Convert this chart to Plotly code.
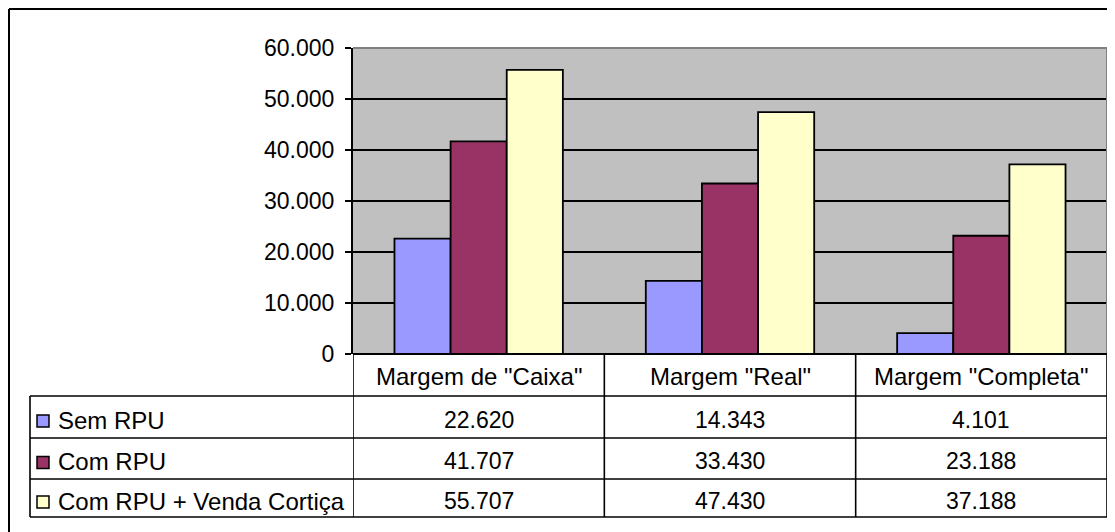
import plotly.graph_objects as go

categories = ['Margem de "Caixa"', 'Margem "Real"', 'Margem "Completa"']
series_names = ["Sem RPU", "Com RPU", "Com RPU + Venda Cortiça"]
sem_rpu = [22620, 14343, 4101]
com_rpu = [41707, 33430, 23188]
com_rpu_cortica = [55707, 47430, 37188]
colors = ["#9999FF", "#993366", "#FFFFCC"]

W, H = 1115, 532
OFF = 8  # page body margin, positions below are measured on the page
FAMILY = "Liberation Sans, Arial, sans-serif"
NUM_FONT = dict(family=FAMILY, size=23, color="black")
TXT_FONT = dict(family=FAMILY, size=24, color="black")


def px(x):
    return (x - OFF) / W


def py(y):
    return 1 - (y - OFF) / H


def fmt(v):
    return f"{v:,}".replace(",", ".")


fig = go.Figure()
for name, vals, col in zip(series_names, [sem_rpu, com_rpu, com_rpu_cortica], colors):
    fig.add_trace(go.Bar(
        x=list(range(len(categories))),
        y=vals,
        name=name,
        marker=dict(color=col, line=dict(color="black", width=1.8)),
        showlegend=False,
    ))

# plot area (page pixels)
x_left, x_right = 353, 1107
y_top, y_bot = 48, 354
# table geometry (page pixels)
tab_left = 30
row_lines = [396, 438, 479, 517]

fig.update_layout(
    width=W, height=H,
    margin=dict(l=0, r=0, t=0, b=0, autoexpand=False),
    paper_bgcolor="white",
    plot_bgcolor="#C0C0C0",
    barmode="group",
    bargap=0.33,
    bargroupgap=0,
    separators=",.",
    font=NUM_FONT,
    xaxis=dict(
        domain=[px(x_left), px(x_right)],
        range=[-0.5, len(categories) - 0.5],
        showticklabels=False, ticks="", showgrid=False, zeroline=False,
        showline=False, automargin=False,
    ),
    yaxis=dict(
        domain=[py(y_bot), py(y_top)],
        range=[0, 60000], dtick=10000, tickformat=",.0f",
        ticks="outside", ticklen=6, tickwidth=1.5, tickcolor="black",
        showgrid=True, gridcolor="black", gridwidth=1.6,
        showline=True, linecolor="black", linewidth=2,
        zeroline=False, ticklabelstandoff=6, automargin=False,
        tickfont=NUM_FONT,
    ),
)

shapes = []
# outer chart border (top and left visible)
shapes.append(dict(type="line", xref="paper", yref="paper",
                   x0=px(9), x1=1, y0=py(9), y1=py(9), line=dict(color="black", width=2)))
shapes.append(dict(type="line", xref="paper", yref="paper",
                   x0=px(9), x1=px(9), y0=py(9), y1=0, line=dict(color="black", width=2)))
# gray top/right of plot area
shapes.append(dict(type="line", xref="paper", yref="paper",
                   x0=px(x_left), x1=px(x_right), y0=py(y_top), y1=py(y_top),
                   line=dict(color="#808080", width=2)))
shapes.append(dict(type="line", xref="paper", yref="paper",
                   x0=px(x_right), x1=px(x_right), y0=py(y_top), y1=py(y_bot),
                   line=dict(color="#808080", width=2)))
# table: top line (category axis)
shapes.append(dict(type="line", xref="paper", yref="paper",
                   x0=px(x_left), x1=px(x_right), y0=py(y_bot), y1=py(y_bot),
                   line=dict(color="black", width=2)))
# table horizontal lines
for yl in row_lines:
    shapes.append(dict(type="line", xref="paper", yref="paper",
                       x0=px(tab_left), x1=px(x_right), y0=py(yl), y1=py(yl),
                       line=dict(color="black", width=1.6)))
# table vertical lines at category boundaries
for i in range(len(categories) + 1):
    shapes.append(dict(type="line", xref="x", yref="paper",
                       x0=i - 0.5, x1=i - 0.5, y0=py(y_bot), y1=py(row_lines[-1]),
                       line=dict(color="black", width=1.6)))
shapes.append(dict(type="line", xref="paper", yref="paper",
                   x0=px(tab_left), x1=px(tab_left), y0=py(row_lines[0]), y1=py(row_lines[-1]),
                   line=dict(color="black", width=1.6)))

annotations = []
# header row
for i, cat in enumerate(categories):
    annotations.append(dict(x=i, y=py((y_bot + row_lines[0]) / 2 + 1), xref="x", yref="paper",
                            text=cat, showarrow=False, font=TXT_FONT,
                            xanchor="center", yanchor="middle"))
# data rows with legend keys
for r, (name, vals, col) in enumerate(zip(series_names, [sem_rpu, com_rpu, com_rpu_cortica], colors)):
    yc = (row_lines[r] + row_lines[r + 1]) / 2
    shapes.append(dict(type="rect", xref="paper", yref="paper",
                       x0=px(37), x1=px(49), y0=py(yc - 2), y1=py(yc + 10),
                       fillcolor=col, line=dict(color="black", width=1.5)))
    annotations.append(dict(x=px(56), y=py(yc + 3), xref="paper", yref="paper",
                            text=name, showarrow=False, font=TXT_FONT,
                            xanchor="left", yanchor="middle"))
    for i, v in enumerate(vals):
        annotations.append(dict(x=i, y=py(yc + 3), xref="x", yref="paper",
                                text=fmt(v), showarrow=False, font=NUM_FONT,
                                xanchor="center", yanchor="middle"))

fig.update_layout(shapes=shapes, annotations=annotations)

fig.write_html("out.html")
